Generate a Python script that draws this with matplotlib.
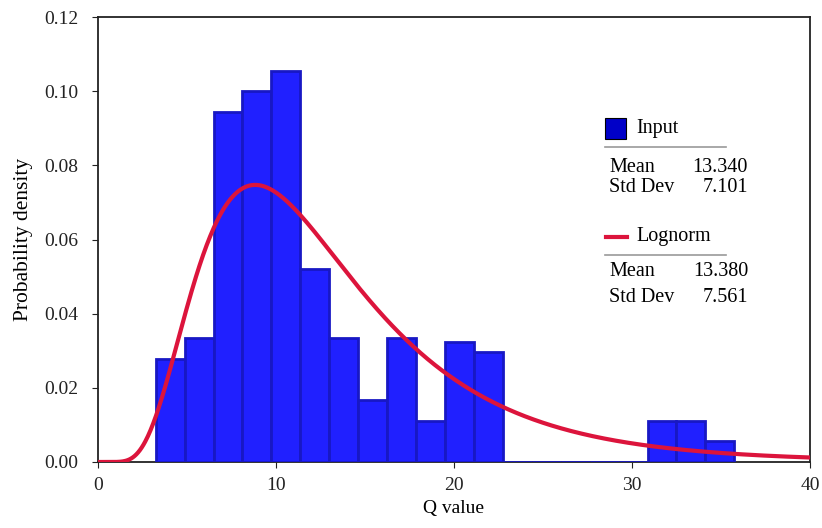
import matplotlib
matplotlib.use('Agg')
import matplotlib.pyplot as plt
import numpy as np
from matplotlib.patches import Rectangle
from matplotlib.lines import Line2D

plt.rcParams['font.family'] = ['Liberation Serif', 'DejaVu Serif']
plt.rcParams['font.size'] = 14

# histogram of input data (density), 20 equal bins
bin_start = 3.24
bin_end = 35.75
heights = [0.0278, 0.0334, 0.0943, 0.1000, 0.1055, 0.0520, 0.0334, 0.0167,
           0.0334, 0.0111, 0.0324, 0.0297, 0.0, 0.0, 0.0, 0.0, 0.0,
           0.0111, 0.0111, 0.0057]

# fitted lognormal (values shown in the legend)
input_mean, input_sd = 13.340, 7.101
fit_mean, fit_sd = 13.380, 7.561

bar_color = '#2020ff'
edge_color = '#1818c4'
line_color = '#dc143c'

fig = plt.figure(figsize=(8.22, 5.28), dpi=100)
ax = fig.add_axes([0.1192, 0.125, 0.8662, 0.8428])

edges = np.linspace(bin_start, bin_end, len(heights) + 1)
ax.bar(edges[:-1], heights, width=np.diff(edges), align='edge',
       color=bar_color, edgecolor=edge_color, linewidth=2.0, zorder=3)

# lognormal pdf from the fitted mean / std dev
s2 = np.log(1 + (fit_sd / fit_mean) ** 2)
s = np.sqrt(s2)
mu = np.log(fit_mean) - s2 / 2
x = np.linspace(0.001, 40, 800)
pdf = np.exp(-(np.log(x) - mu) ** 2 / (2 * s2)) / (x * s * np.sqrt(2 * np.pi))
ax.plot(x, pdf, color=line_color, linewidth=3.0, zorder=4, solid_capstyle='butt')

ax.set_xlim(0, 40)
ax.set_ylim(0, 0.12)
ax.set_xticks([0, 10, 20, 30, 40])
ax.set_yticks(np.arange(0, 0.121, 0.02))
ax.yaxis.set_major_formatter(matplotlib.ticker.FormatStrFormatter('%.2f'))
ax.tick_params(direction='out', length=4, width=0.8, labelsize=14, colors='#222222')
ax.tick_params(axis='y', pad=10)
ax.tick_params(axis='x', pad=7)
ax.set_xlabel('Q value', fontsize=14, labelpad=4)
ax.set_ylabel('Probability density', fontsize=15.5, labelpad=8)
for sp in ax.spines.values():
    sp.set_linewidth(1.3)
    sp.set_color('#222222')

# legend panel
fs = 14.5
fig.add_artist(Rectangle((605 / 822, 1 - 139 / 528), 21 / 822, 21 / 528,
                         facecolor='#0000c8', edgecolor='black', linewidth=0.8))
fig.text(636 / 822, 1 - 128 / 528, 'Input', va='center', fontsize=fs)
fig.add_artist(Line2D([605 / 822, 726 / 822], [1 - 147 / 528] * 2, color='#999999', linewidth=1.2))
fig.text(609 / 822, 1 - 167 / 528, 'Mean', va='center', fontsize=fs)
fig.text(748 / 822, 1 - 167 / 528, f'{input_mean:.3f}', va='center', ha='right', fontsize=fs)
fig.text(609 / 822, 1 - 188 / 528, 'Std Dev', va='center', fontsize=fs)
fig.text(748 / 822, 1 - 188 / 528, f'{input_sd:.3f}', va='center', ha='right', fontsize=fs)

fig.add_artist(Line2D([606 / 822, 627 / 822], [1 - 237 / 528] * 2, color=line_color, linewidth=3.0))
fig.text(636 / 822, 1 - 237 / 528, 'Lognorm', va='center', fontsize=fs)
fig.add_artist(Line2D([605 / 822, 726 / 822], [1 - 255 / 528] * 2, color='#999999', linewidth=1.2))
fig.text(609 / 822, 1 - 272 / 528, 'Mean', va='center', fontsize=fs)
fig.text(748 / 822, 1 - 272 / 528, f'{fit_mean:.3f}', va='center', ha='right', fontsize=fs)
fig.text(609 / 822, 1 - 297 / 528, 'Std Dev', va='center', fontsize=fs)
fig.text(748 / 822, 1 - 297 / 528, f'{fit_sd:.3f}', va='center', ha='right', fontsize=fs)

fig.savefig('out.png', dpi=100)
